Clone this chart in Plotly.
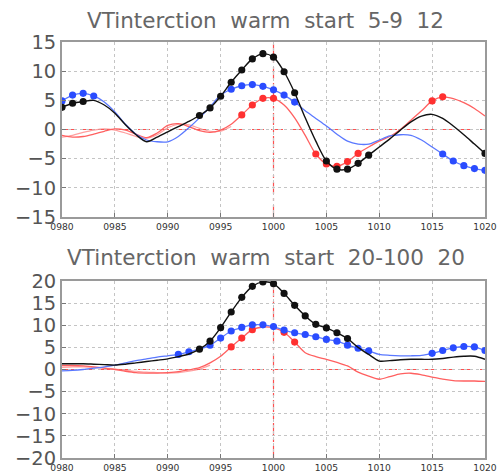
import plotly.graph_objects as go

years = list(range(980, 1021))
tick_years = [980, 985, 990, 995, 1000, 1005, 1010, 1015, 1020]
tick_labels = ["0980", "0985", "0990", "0995", "1000", "1005", "1010", "1015", "1020"]

# ---- top panel: "5-9 12"
top_black = [3.8, 4.5, 4.8, 5.0, 4.2, 2.8, 0.8, -0.9, -2.1, -1.3, -0.4, 0.5, 1.4, 2.4,
             3.7, 5.7, 8.1, 10.2, 12.1, 13.0, 12.4, 9.9, 6.3, 2.0, -2.0, -5.4, -6.8,
             -6.8, -5.8, -4.4, -3.0, -1.6, -0.1, 1.3, 2.3, 2.6, 1.9, 0.6, -0.9, -2.5, -4.1]
top_blue = [4.9, 5.9, 6.2, 5.75, 4.7, 3.0, 0.9, -0.8, -1.8, -2.1, -2.1, -1.2, 0.3, 2.0,
            3.9, 5.9, 6.9, 7.5, 7.7, 7.4, 6.8, 5.9, 4.7, 3.2, 1.9, 0.6, -0.8, -2.0,
            -2.5, -2.5, -1.8, -1.1, -0.9, -1.0, -1.8, -3.0, -4.2, -5.4, -6.2, -6.7, -7.0]
top_red = [-1.0, -1.3, -1.2, -0.8, -0.3, 0.1, -0.1, -0.8, -1.4, -0.6, 0.7, 1.0, 0.5, -0.2,
           -0.5, -0.1, 0.9, 2.5, 4.2, 5.35, 5.35, 4.2, 2.0, -1.0, -4.2, -5.9, -6.3,
           -5.5, -4.1, -3.0, -2.0, -1.2, 0.0, 1.6, 3.2, 4.9, 5.6, 5.3, 4.6, 3.6, 2.3]
top_red2_years = list(range(980, 997))
top_red2 = [-1.3, -1.0, -0.5, -0.1, 0.1, -0.1, -0.6, -1.2, -1.5, -0.9, 0.3, 0.9, 0.8,
            0.2, -0.3, -0.3, 0.5]
top_black_marks = [980, 981, 982, 993, 994, 995, 996, 997, 998, 999, 1000, 1001, 1002,
                   1005, 1006, 1007, 1008, 1009, 1020]
top_blue_marks = [980, 981, 982, 983, 996, 997, 998, 999, 1000, 1001, 1002,
                  1016, 1017, 1018, 1019, 1020]
top_red_marks = [997, 998, 999, 1000, 1004, 1005, 1006, 1007, 1008, 1015, 1016]

# ---- bottom panel: "20-100 20"
bot_black = [1.3, 1.3, 1.3, 1.2, 1.1, 1.0, 1.2, 1.5, 1.8, 2.1, 2.4, 2.9, 3.5, 4.6,
             6.4, 9.45, 13.0, 16.3, 18.8, 19.8, 19.4, 17.2, 14.5, 12.1, 10.2, 9.4, 8.3,
             7.0, 5.0, 3.4, 1.9, 2.0, 2.2, 2.3, 2.3, 2.3, 2.5, 2.8, 3.0, 3.0, 2.3]
bot_blue = [-0.3, -0.2, 0.0, 0.3, 0.6, 1.0, 1.5, 2.0, 2.4, 2.8, 3.1, 3.4, 4.0, 4.6,
            5.5, 7.1, 8.7, 9.5, 10.1, 10.1, 9.7, 8.9, 8.3, 7.9, 7.4, 6.8, 6.4, 5.5,
            4.8, 4.2, 3.4, 3.2, 3.1, 3.1, 3.2, 3.65, 4.3, 4.9, 5.2, 5.1, 4.3]
bot_red = [0.9, 0.9, 0.8, 0.6, 0.3, 0.0, -0.4, -0.7, -0.8, -0.8, -0.7, -0.5, -0.1, 0.4,
           1.5, 3.0, 5.1, 7.1, 9.0, 9.6, 9.4, 8.4, 6.2, 3.8, 2.9, 2.3, 1.6, 0.8, -0.6,
           -1.5, -2.2, -1.6, -1.0, -0.85, -1.2, -1.7, -2.2, -2.5, -2.6, -2.6, -2.7]
bot_red2_years = list(range(980, 995))
bot_red2 = [0.5, 0.6, 0.6, 0.5, 0.3, 0.1, -0.2, -0.4, -0.6, -0.7, -0.8, -0.7, -0.4,
            0.1, 1.0]
bot_black_marks = [993, 994, 995, 996, 997, 998, 999, 1000, 1001, 1002, 1003, 1004,
                   1005, 1006, 1007]
bot_blue_marks = [991, 992, 994, 995, 996, 997, 998, 999, 1000, 1001, 1002, 1003, 1004,
                  1005, 1006, 1007, 1008, 1009, 1015, 1016, 1017, 1018, 1019, 1020]
bot_red_marks = [996, 997, 998, 1001, 1002]

BLACK = "#111111"
BLUE_L, BLUE_M = "#5a78ff", "#2a4cff"
RED_L, RED_M = "#ff6060", "#ff3030"

S = 1.0235  # page-to-photo size compensation

fig = go.Figure()


def add_series(xs, ys, marks, lc, mc, width, xa, ya, fade=1.0):
    fig.add_trace(go.Scatter(x=xs, y=ys, mode="lines", xaxis=xa, yaxis=ya,
                             line=dict(color=lc, width=width, shape="spline", smoothing=0.8),
                             opacity=fade, showlegend=False, hoverinfo="skip"))
    if marks:
        lookup = dict(zip(xs, ys))
        fig.add_trace(go.Scatter(x=marks, y=[lookup[m] for m in marks], mode="markers",
                                 xaxis=xa, yaxis=ya,
                                 marker=dict(color=mc, size=7 * S, line=dict(width=0)),
                                 showlegend=False, hoverinfo="skip"))


# top
add_series(top_red2_years, top_red2, None, RED_L, RED_M, 1.2, "x", "y", fade=0.6)
add_series(years, top_red, top_red_marks, RED_L, RED_M, 1.3, "x", "y")
add_series(years, top_blue, top_blue_marks, BLUE_L, BLUE_M, 1.3, "x", "y")
add_series(years, top_black, top_black_marks, BLACK, BLACK, 1.4, "x", "y")
# bottom
add_series(bot_red2_years, bot_red2, None, RED_L, RED_M, 1.2, "x2", "y2", fade=0.6)
add_series(years, bot_red, bot_red_marks, RED_L, RED_M, 1.3, "x2", "y2")
add_series(years, bot_blue, bot_blue_marks, BLUE_L, BLUE_M, 1.3, "x2", "y2")
add_series(years, bot_black, bot_black_marks, BLACK, BLACK, 1.4, "x2", "y2")

ytop_vals = [-15, -10, -5, 0, 5, 10, 15]
ybot_vals = [-20, -15, -10, -5, 0, 5, 10, 15, 20]


def ylab(v):
    return ("\u2212" + str(-v)) if v < 0 else str(v)


common_axis = dict(showline=True, linecolor="#9a9a9a", linewidth=2, mirror=True,
                   showgrid=True, gridcolor="#c4c4c4", griddash="dot", gridwidth=1,
                   zeroline=False, ticks="inside", ticklen=4, tickcolor="#777")

xaxis_common = dict(common_axis, range=[980, 1020], tickvals=tick_years, ticktext=tick_labels,
                    tickfont=dict(family="DejaVu Sans", size=9.2, color="#333"))

yfont = dict(family="DejaVu Sans", size=19 * S, color="#555")

fig.update_layout(
    width=round(497 * S), height=round(474 * S),
    margin=dict(l=61 * S, r=15 * S, t=41 * S, b=17 * S),
    paper_bgcolor="white", plot_bgcolor="white",
    xaxis=dict(xaxis_common, domain=[0, 1], anchor="y"),
    yaxis=dict(common_axis, domain=[0.5793, 1.0], range=[-15, 15], tickvals=ytop_vals,
               ticktext=[ylab(v) for v in ytop_vals], anchor="x", tickfont=yfont),
    xaxis2=dict(xaxis_common, domain=[0, 1], anchor="y2"),
    yaxis2=dict(common_axis, domain=[0.0, 0.4255], range=[-20, 20], tickvals=ybot_vals,
                ticktext=[ylab(v) for v in ybot_vals], anchor="x2", tickfont=yfont),
)

for xr, yr in (("x", "y"), ("x2", "y2")):
    fig.add_shape(type="line", xref=xr, yref=yr, x0=980, x1=1020, y0=0, y1=0,
                  line=dict(color="#ff5050", width=1.2, dash="12px,7px"), layer="below")
    fig.add_shape(type="line", xref=xr, yref=yr + " domain", x0=1000, x1=1000, y0=0, y1=1,
                  line=dict(color="#ff5050", width=1.2, dash="12px,4px,3px,4px"), layer="below")

title_font = dict(family="DejaVu Sans", size=21 * S, color="#666")
fig.add_annotation(text="VTinterction  warm  start  5-9  12", xref="paper", yref="paper",
                   x=0.482, y=1.0505, xanchor="center", yanchor="middle", showarrow=False,
                   font=title_font)
fig.add_annotation(text="VTinterction  warm  start  20-100  20", xref="paper", yref="paper",
                   x=0.482, y=0.4808, xanchor="center", yanchor="middle", showarrow=False,
                   font=title_font)

fig.write_html(
    "out.html",
    config={"displayModeBar": False},
    post_script=("document.body.style.margin='0px';"
                 "document.body.style.overflow='hidden';"
                 "document.documentElement.style.overflow='hidden';"),
)
